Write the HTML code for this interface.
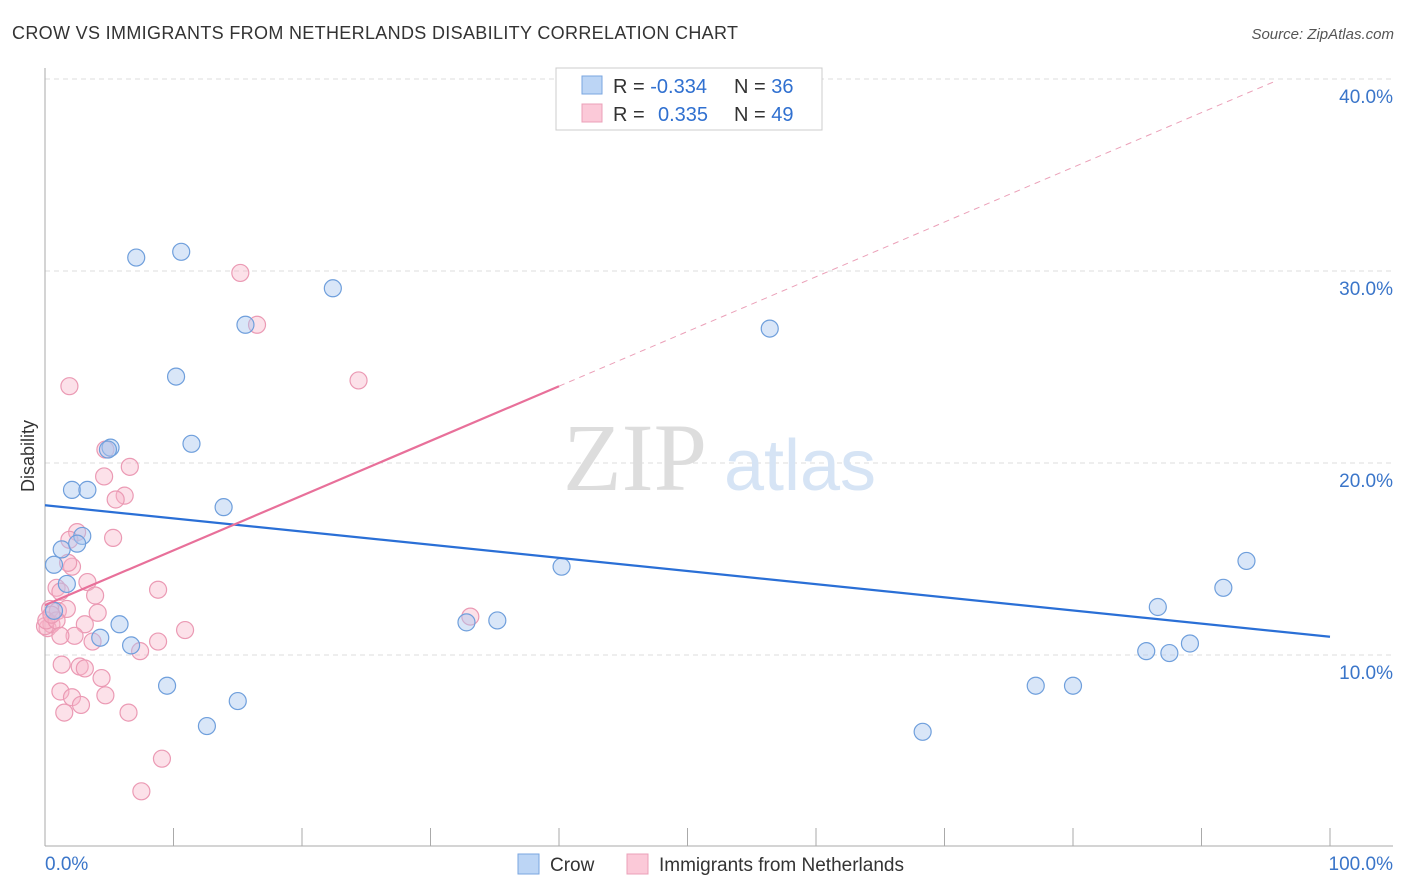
<!DOCTYPE html>
<html><head><meta charset="utf-8"><style>
body{margin:0;background:#fff;font-family:"Liberation Sans",sans-serif;}
svg{display:block}
</style></head><body>
<svg width="1406" height="892" xmlns="http://www.w3.org/2000/svg">
<text x="12" y="39" font-size="18" fill="#333" textLength="726">CROW VS IMMIGRANTS FROM NETHERLANDS DISABILITY CORRELATION CHART</text>
<text x="1394" y="39" font-size="15" fill="#555" text-anchor="end" font-style="italic">Source: ZipAtlas.com</text>
<g id="grid"></g>
<text x="635" y="490" font-size="96" fill="#ddd" font-family="Liberation Serif,serif" text-anchor="middle">ZIP</text>
<text x="800" y="490" font-size="72" fill="#d6e4f5" text-anchor="middle">atlas</text>
<g id="pts"></g>
<g id="lines"></g>
<text x="34" y="456" font-size="18" fill="#333" transform="rotate(-90 34 456)" text-anchor="middle">Disability</text>
<g>
<rect x="556" y="68" width="266" height="62" fill="#fff" stroke="#ccc"/>
<rect x="582" y="76" width="20" height="18" fill="#bcd5f5" stroke="#7aa6e0"/>
<rect x="582" y="104" width="20" height="18" fill="#fbc9d8" stroke="#eba0b8"/>
<text x="613" y="93" font-size="20" fill="#333">R = <tspan fill="#3070d0">-0.334</tspan><tspan x="734">N = </tspan><tspan fill="#3070d0">36</tspan></text>
<text x="613" y="121" font-size="20" fill="#333">R = <tspan x="658" fill="#3070d0">0.335</tspan><tspan x="734">N = </tspan><tspan fill="#3070d0">49</tspan></text>
</g>
<g>
<rect x="518" y="854" width="21" height="20" fill="#bcd5f5" stroke="#7aa6e0"/>
<text x="550" y="871" font-size="19" fill="#333">Crow</text>
<rect x="627" y="854" width="21" height="20" fill="#fbc9d8" stroke="#eba0b8"/>
<text x="659" y="871" font-size="19" fill="#333">Immigrants from Netherlands</text>
</g>
<text x="45" y="870" font-size="19" fill="#3a75c9">0.0%</text>
<text x="1393" y="870" font-size="19" fill="#3a75c9" text-anchor="end">100.0%</text>
</svg>
<script>
const yTicks=[10,20,30,40];
const yTickLabels=["10.0%","20.0%","30.0%","40.0%"];
const xTicks=[0,10,20,30,40,50,60,70,80,90,100];
const crowX=[7.1,10.6,22.4,15.6,56.4,10.2,11.4,5.1,4.9,2.1,3.3,13.9,2.9,1.3,2.5,0.7,1.7,40.2,93.5,91.7,86.6,0.7,32.8,35.2,5.8,4.3,6.7,85.7,87.5,89.1,77.1,80.0,9.5,15.0,12.6,68.3];
const crowY=[30.7,31.0,29.1,27.2,27.0,24.5,21.0,20.8,20.7,18.6,18.6,17.7,16.2,15.5,15.8,14.7,13.7,14.6,14.9,13.5,12.5,12.3,11.7,11.8,11.6,10.9,10.5,10.2,10.1,10.6,8.4,8.4,8.4,7.6,6.3,6.0];
const nethX=[15.2,16.5,24.4,1.9,4.7,6.6,4.6,6.2,5.5,2.5,1.9,5.3,2.1,1.8,0.9,1.2,3.3,8.8,3.9,0.4,1.0,1.7,4.1,0.2,0.5,3.1,2.3,3.7,8.8,10.9,33.1,7.4,1.3,2.7,3.1,4.4,1.2,2.1,4.7,2.8,1.5,6.5,9.1,7.5,0.0,0.1,0.9,0.5,1.2];
const nethY=[29.9,27.2,24.3,24.0,20.7,19.8,19.3,18.3,18.1,16.4,16.0,16.1,14.6,14.8,13.5,13.3,13.8,13.4,13.1,12.4,12.3,12.4,12.2,11.4,11.6,11.6,11.0,10.7,10.7,11.3,12.0,10.2,9.5,9.4,9.3,8.8,8.1,7.8,7.9,7.4,7.0,7.0,4.6,2.9,11.5,11.8,11.8,12.1,11.0];
const crowTrend=[17.8,10.95];
const nethTrend=[12.6,0.285];
const X=v=>45+v*12.85, Y=v=>847-v*19.2;
const ns="http://www.w3.org/2000/svg";
function mk(t,a,p){const e=document.createElementNS(ns,t);for(const k in a)e.setAttribute(k,a[k]);p.appendChild(e);return e;}
const grid=document.getElementById('grid');
yTicks.forEach((t,i)=>{
 const l=mk('line',{x1:45,x2:1393,y1:Y(t),y2:Y(t),stroke:'#ddd','stroke-dasharray':'5,4'},grid);
 
 
 const tx=mk('text',{x:1393,y:Y(t)+24,'font-size':19,fill:'#3a75c9','text-anchor':'end'},grid);
 tx.textContent=yTickLabels[i];
 
 
});
const ax=mk('line',{x1:45,x2:45,y1:68,y2:846,stroke:'#aaa'},grid);


const bx=mk('line',{x1:45,x2:1393,y1:846,y2:846,stroke:'#aaa'},grid);


xTicks.forEach(t=>{
 const l=mk('line',{x1:X(t),x2:X(t),y1:828,y2:846,stroke:'#aaa'},grid);
 
 
});
const pts=document.getElementById('pts');
nethX.forEach((x,i)=>{
 const c=mk('circle',{cx:X(x),cy:Y(nethY[i]),r:8.5,fill:'rgba(248,180,200,0.4)',stroke:'#eb9ab4','stroke-width':1.2},pts);
 
 
});
crowX.forEach((x,i)=>{
 const c=mk('circle',{cx:X(x),cy:Y(crowY[i]),r:8.5,fill:'rgba(170,200,240,0.45)',stroke:'#6f9fdc','stroke-width':1.2},pts);
 
 
});
const lines=document.getElementById('lines');
const cl=mk('line',{x1:X(0),y1:Y(crowTrend[0]),x2:X(100),y2:Y(crowTrend[1]),stroke:'#2a6fd6','stroke-width':2.2},lines);


const nl=mk('line',{x1:X(0),y1:Y(nethTrend[0]),x2:X(40),y2:Y(nethTrend[0]+40*nethTrend[1]),stroke:'#e8709a','stroke-width':2.2},lines);


const nd=mk('line',{x1:X(40),y1:Y(nethTrend[0]+40*nethTrend[1]),x2:X(95.7),y2:Y(nethTrend[0]+95.7*nethTrend[1]),stroke:'#eba0b8','stroke-width':1,'stroke-dasharray':'6,5'},lines);


</script>
</body></html>
